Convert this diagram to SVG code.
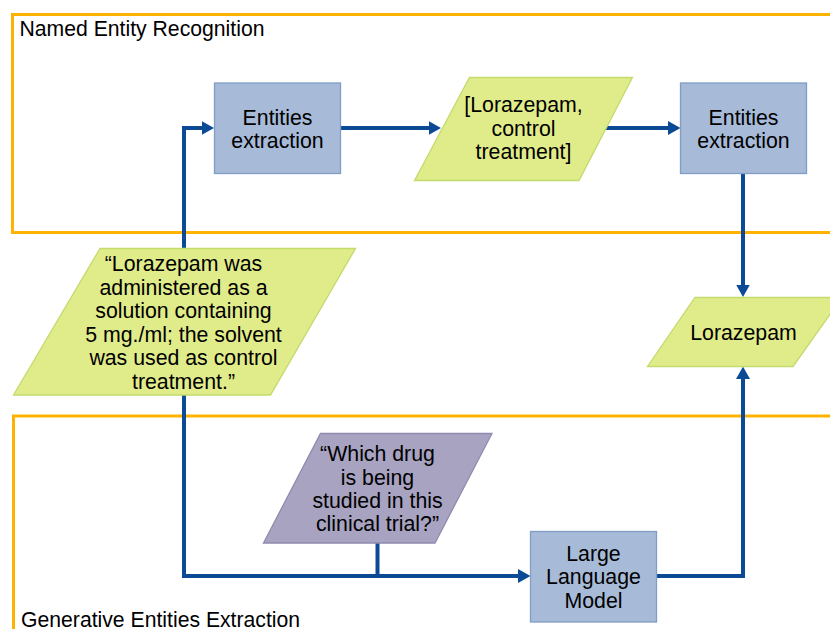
<svg xmlns="http://www.w3.org/2000/svg" width="830" height="629" viewBox="0 0 830 629">
<defs>
<style>
.region{fill:none;stroke:#FFB300;stroke-width:3}
.title{font-family:"Liberation Sans",Arial,sans-serif;font-size:21.2px;fill:#000}
.proc{fill:#A7BBD8;stroke:#7F9DC6;stroke-width:1.3}
.data{fill:#E0EC8A;stroke:#C3DA6C;stroke-width:1.3}
.query{fill:#A7A3C0;stroke:#8F8BAE;stroke-width:1.3}
.lbl{font-family:"Liberation Sans",Arial,sans-serif;font-size:21.3px;fill:#000;text-anchor:middle}
.conn{fill:none;stroke:#0D4A96;stroke-width:4;stroke-linejoin:miter}
</style>
<marker id="ah" markerUnits="userSpaceOnUse" markerWidth="13" markerHeight="14" refX="6" refY="7" orient="auto">
<path d="M0,0 L12.5,7 L0,14 Z" fill="#0D4A96"/>
</marker>
</defs>
<rect width="830" height="629" fill="#fff"/>

<g id="region-ner">
<rect class="region" x="12.5" y="14.5" width="830" height="218"/>
<text class="title" x="19.5" y="36">Named Entity Recognition</text>
</g>
<g id="region-gee">
<rect class="region" x="13.5" y="416" width="830" height="230"/>
<text class="title" x="21" y="626.5">Generative Entities Extraction</text>
</g>

<g id="connectors">
<path class="conn" d="M184,248 V128 H207.5" marker-end="url(#ah)"/>
<path class="conn" d="M341,128 H434.5" marker-end="url(#ah)"/>
<path class="conn" d="M605,128 H674" marker-end="url(#ah)"/>
<path class="conn" d="M743,174 V290.5" marker-end="url(#ah)"/>
<path class="conn" d="M184,395 V576 H524" marker-end="url(#ah)"/>
<path class="conn" d="M377.5,543 V576"/>
<path class="conn" d="M657,576 H743 V373" marker-end="url(#ah)"/>
</g>

<g id="entities-extraction-1">
<rect class="proc" x="214.5" y="83" width="126" height="90.5"/>
<text class="lbl" x="277.5" y="124.5">Entities</text>
<text class="lbl" x="277.5" y="147.5">extraction</text>
</g>

<g id="entities-list">
<polygon class="data" points="469.5,77.5 632.5,77.5 579,180.5 414.5,180.5"/>
<text class="lbl" x="523.5" y="111.5">[Lorazepam,</text>
<text class="lbl" x="523.5" y="135.5">control</text>
<text class="lbl" x="523.5" y="159">treatment]</text>
</g>

<g id="entities-extraction-2">
<rect class="proc" x="680.5" y="83" width="126" height="90.5"/>
<text class="lbl" x="743.5" y="124.5">Entities</text>
<text class="lbl" x="743.5" y="147.5">extraction</text>
</g>

<g id="input-sentence">
<polygon class="data" points="100,248.5 355.5,248.5 270.5,395 13.5,395"/>
<text class="lbl" x="183.5" y="271">“Lorazepam was</text>
<text class="lbl" x="183.5" y="294.5">administered as a</text>
<text class="lbl" x="183.5" y="318">solution containing</text>
<text class="lbl" x="183.5" y="341.5">5 mg./ml; the solvent</text>
<text class="lbl" x="183.5" y="365">was used as control</text>
<text class="lbl" x="183.5" y="388.5">treatment.”</text>
</g>

<g id="result">
<polygon class="data" points="695,297.5 842,297.5 793,366.5 647.5,366.5"/>
<text class="lbl" x="743.5" y="339.5">Lorazepam</text>
</g>

<g id="question">
<polygon class="query" points="320.5,433.5 492,433.5 435,543 263.5,543"/>
<text class="lbl" x="377.5" y="460.5">“Which drug</text>
<text class="lbl" x="377.5" y="484.5">is being</text>
<text class="lbl" x="377.5" y="507.5">studied in this</text>
<text class="lbl" x="377.5" y="531">clinical trial?”</text>
</g>

<g id="llm">
<rect class="proc" x="530.5" y="531.5" width="126" height="90.5"/>
<text class="lbl" x="593.5" y="560.5">Large</text>
<text class="lbl" x="593.5" y="584">Language</text>
<text class="lbl" x="593.5" y="608">Model</text>
</g>
</svg>
